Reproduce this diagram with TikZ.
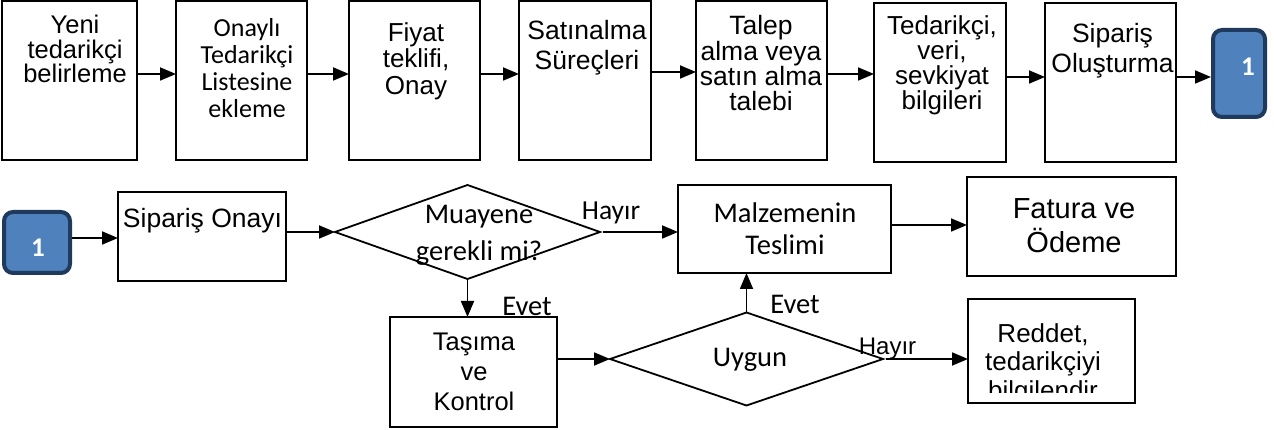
\documentclass[tikz,border=0pt]{standalone}
\usepackage{fontspec}
\setmainfont{Liberation Sans}
\newfontfamily\calfont{Carlito}
\usetikzlibrary{arrows.meta,shapes.geometric}
\definecolor{navy}{HTML}{1F3A5C}
\definecolor{blu}{HTML}{4F81BD}
\begin{document}
\begin{tikzpicture}[x=1pt,y=-1pt,
  box/.style={draw, line width=1.8pt, inner sep=0pt, outer sep=0pt},
  dia/.style={draw, diamond, line width=1.8pt, inner sep=0pt, outer sep=0pt},
  conn/.style={draw=navy, fill=blu, line width=4pt, rounded corners=9pt, inner sep=0pt, outer sep=2pt},
  txt/.style={inner sep=0pt, anchor=north, align=center},
  arr/.style={line width=1.8pt, -{Triangle[length=16pt,width=13pt]}}]
\useasboundingbox (0,0) rectangle (1274,430);
% top row boxes
\node[box, minimum width=135pt, minimum height=159pt] (b1) at (69.5,80.5) {};
\node[box, minimum width=131pt, minimum height=159pt] (b2) at (241.5,80.5) {};
\node[box, minimum width=131pt, minimum height=159pt] (b3) at (414.5,80.5) {};
\node[box, minimum width=132pt, minimum height=159pt] (b4) at (585,80.5) {};
\node[box, minimum width=131pt, minimum height=159pt] (b5) at (761.5,80.5) {};
\node[box, minimum width=132pt, minimum height=159pt] (b6) at (940,82.5) {};
\node[box, minimum width=131pt, minimum height=159pt] (b7) at (1110.5,82.5) {};
\node[conn, minimum width=52pt, minimum height=87pt] (c1) at (1239,73.5) {};
\node[font=\calfont\bfseries\fontsize{27}{27}\selectfont, text=white, inner sep=0pt] (c1t) at (1248,67) {1};
% top row texts
\node[txt, font=\fontsize{25.5}{24.5}\selectfont] (t1) at (75,15) {Yeni\\tedarikçi\\belirleme};
\node[txt, font=\calfont\fontsize{26}{27}\selectfont] (t2) at (247,18) {Onaylı\\Tedarikçi\\Listesine\\ekleme};
\node[txt, font=\fontsize{26}{26.5}\selectfont] (t3) at (416,22) {Fiyat\\teklifi,\\Onay};
\node[txt, font=\fontsize{26.5}{30}\selectfont] (t4) at (587,20) {Satınalma\\Süreçleri};
\node[txt, font=\fontsize{26.5}{24.5}\selectfont] (t5) at (761,15) {Talep\\alma veya\\satın alma\\talebi};
\node[txt, font=\fontsize{26}{25}\selectfont] (t6) at (942,15) {Tedarikçi,\\veri,\\sevkiyat\\bilgileri};
\node[txt, font=\fontsize{26.5}{30}\selectfont] (t7) at (1112.5,23) {Sipariş\\Oluşturma};
% top row arrows
\draw[arr] (b1.east |- 0,74) -- (b2.west |- 0,74);
\draw[arr] (b2.east |- 0,74) -- (b3.west |- 0,74);
\draw[arr] (b3.east |- 0,74) -- (b4.west |- 0,74);
\draw[arr] (b4.east |- 0,72) -- (b5.west |- 0,72);
\draw[arr] (b5.east |- 0,74) -- (b6.west |- 0,74);
\draw[arr] (b6.east |- 0,77) -- (b7.west |- 0,77);
\draw[arr] (b7.east |- 0,77) -- (c1.west |- 0,77);
% bottom row
\node[conn, minimum width=66pt, minimum height=61pt] (c2) at (37,242.5) {};
\node[font=\calfont\bfseries\fontsize{27}{27}\selectfont, text=white, inner sep=0pt] (c2t) at (38,248) {1};
\node[box, minimum width=168pt, minimum height=89pt] (so) at (202,236.5) {};
\node[txt, font=\fontsize{26.5}{26.5}\selectfont] (sot) at (202.5,208) {Sipariş Onayı};
\node[dia, minimum width=265pt, minimum height=94pt] (d1) at (467.5,232) {};
\node[txt, font=\calfont\fontsize{28.5}{37}\selectfont] (d1t) at (479,205) {Muayene\\gerekli mi?};
\node[box, minimum width=213pt, minimum height=88pt] (mt) at (784.5,229) {};
\node[txt, font=\calfont\fontsize{28.5}{32}\selectfont] (mtt) at (785,203) {Malzemenin\\Teslimi};
\node[box, minimum width=209pt, minimum height=99pt] (fo) at (1071.5,226.5) {};
\node[txt, font=\fontsize{29}{34}\selectfont] (fot) at (1074,198) {Fatura ve\\Ödeme};
\node[box, minimum width=167pt, minimum height=110pt] (tk) at (473.5,372) {};
\node[txt, font=\fontsize{25.5}{30}\selectfont] (tkt) at (474,333) {Taşıma\\ve\\Kontrol};
\node[dia, minimum width=273pt, minimum height=93pt] (d2) at (746.5,359) {};
\node[txt, font=\calfont\fontsize{28.5}{28.5}\selectfont] (d2t) at (750,348) {Uygun};
\node[box, minimum width=167pt, minimum height=104pt] (rd) at (1051.5,351) {};
\begin{scope}
\clip (rd.north west) rectangle ([yshift=11pt]rd.south east);
\node[txt, font=\fontsize{26}{28.5}\selectfont] (rdt) at (1043,323) {Reddet,\\tedarikçiyi\\bilgilendir};
\end{scope}
% labels
\node[txt, font=\calfont\fontsize{27.5}{27.5}\selectfont] (h1) at (611,202) {Hayır};
\node[txt, font=\calfont\fontsize{28.5}{28.5}\selectfont] (e1) at (527,297) {Evet};
\node[txt, font=\calfont\fontsize{28.5}{28.5}\selectfont] (e2) at (795,295) {Evet};
\node[txt, font=\fontsize{24}{24}\selectfont] (h2) at (887.5,338) {Hayır};
% bottom arrows
\draw[arr] (c2.east |- 0,238) -- (so.west |- 0,238);
\draw[arr] (so.east |- d1.west) -- (d1.west);
\draw[arr] ([xshift=3pt]d1.east) -- (mt.west |- d1.east);
\draw[arr] (mt.east |- 0,225) -- (fo.west |- 0,225);
\draw[arr] (d1.south) -- (tk.north -| d1.south);
\draw[arr] (tk.east |- d2.west) -- (d2.west);
\draw[arr] (d2.north) -- (mt.south -| d2.north);
\draw[arr] ([xshift=3pt]d2.east) -- (rd.west |- d2.east);
\end{tikzpicture}
\end{document}
